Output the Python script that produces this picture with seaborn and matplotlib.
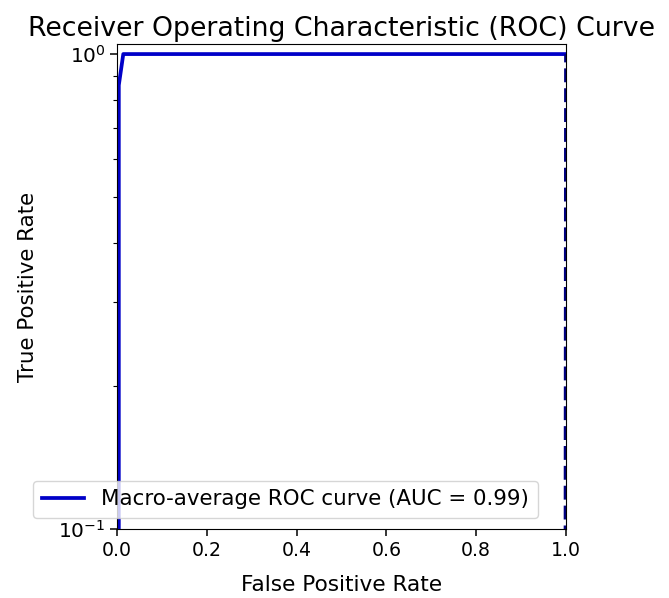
import numpy as np
import matplotlib
matplotlib.use("Agg")
import matplotlib.pyplot as plt
import seaborn as sns

# ROC data
fpr = [0.0, 0.004, 0.014, 1.0]
tpr = [0.0, 0.86, 1.0, 1.0]
chance_x = [0.0, 1.0]
chance_y = [0.0, 1.0]
auc_label = "Macro-average ROC curve (AUC = 0.99)"

plt.rcParams["font.family"] = ["DejaVu Sans"]
plt.rcParams["font.size"] = 13.6

fig = plt.figure(figsize=(6.69, 5.98), dpi=100)
ax = fig.add_axes([117 / 669, 1 - 529 / 598, 449 / 669, 485 / 598])

sns.lineplot(x=fpr, y=tpr, color="#0000c8", lw=2.7, label=auc_label,
             sort=False, estimator=None, ax=ax)
sns.lineplot(x=chance_x, y=chance_y, color="navy", lw=2.7, linestyle="--",
             sort=False, estimator=None, ax=ax)

ax.set_yscale("log")
ax.set_xlim(0.0, 1.0)
ax.set_ylim(0.1, 1.05)
ax.tick_params(axis="x", labelsize=13.6)
ax.tick_params(axis="y", labelsize=14.5)
ax.tick_params(length=4.8, width=1.1)
ax.tick_params(which="minor", length=2.7, width=0.8)
ax.set_xlabel("False Positive Rate", fontsize=15.6)
ax.set_ylabel("True Positive Rate", fontsize=15.4)
ax.xaxis.set_label_coords(0.5, -0.094)
ax.yaxis.set_label_coords(-0.176, 0.5)
ax.set_title("Receiver Operating Characteristic (ROC) Curve", fontsize=19.3)

ax.legend(loc="lower left", bbox_to_anchor=(-0.187, 0.023), borderaxespad=0,
          fontsize=15.4)

fig.savefig("out.png", dpi=100)
